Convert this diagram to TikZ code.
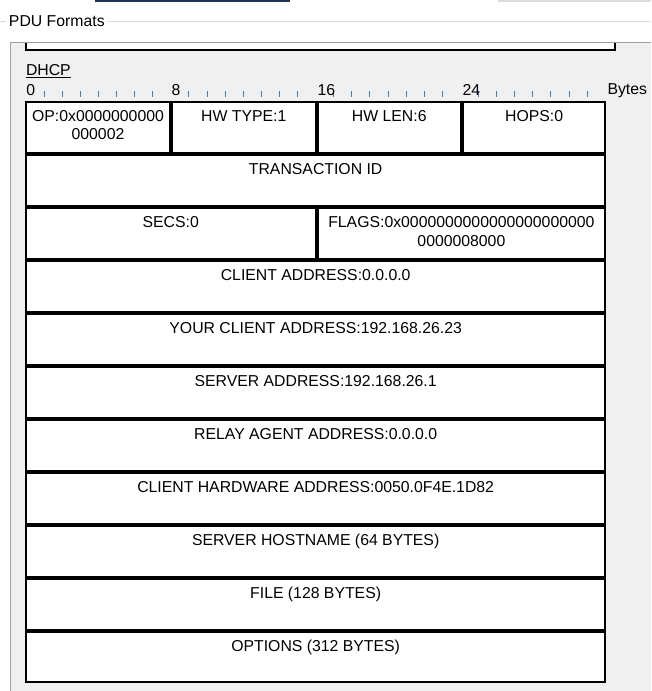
\documentclass[tikz,border=0pt]{standalone}
\usepackage{fontspec}
\setmainfont{Liberation Sans}
\definecolor{panelgray}{HTML}{F0F0F0}
\definecolor{panelborder}{HTML}{A0A0A0}
\definecolor{groupline}{HTML}{DCDCDC}
\definecolor{tabnavy}{HTML}{1B3358}
\definecolor{tickblue}{HTML}{3A7BD5}
\begin{document}
\begin{tikzpicture}[x=1pt,y=-1pt,
  every node/.style={font=\fontsize{15.8}{18.3}\selectfont, inner sep=0pt, outer sep=0pt},
  cellbox/.style={draw=black, line width=2pt, fill=white, rectangle, anchor=north west},
  celltext/.style={anchor=base, align=center, text=black},
  rulertick/.style={draw=tickblue, line width=1pt},
  rulerlabel/.style={anchor=base west, text=black}]
\useasboundingbox (0,0) rectangle (651,691);
\clip (0,0) rectangle (651,691);
\fill[white] (0,0) rectangle (651,691);
% window chrome
\fill[tabnavy] (95,0) rectangle (290,2);
\fill[groupline] (498,0) rectangle (651,1.5);
\node[anchor=base west] (title) at (9,26.5) {PDU Formats};
\draw[groupline, line width=1pt] (0,21.7) -- (6,21.7);
\draw[groupline, line width=1pt] (107,21.7) -- (651,21.7);
% panel
\fill[panelgray] (10.5,42.5) rectangle (652,692);
\draw[panelborder, line width=1pt] (10.5,692) -- (10.5,42.5) -- (652,42.5);
% previous PDU (cut off)
\fill[white] (26.3,43) rectangle (615,50);
\draw[black, line width=2pt] (26.3,43) -- (26.3,50) -- (615,50) -- (615,43);
% header
\node[anchor=base west] (dhcp) at (26,75.7) {DHCP};
\draw[black, line width=1pt] ([yshift=-2pt]dhcp.base west) -- ([yshift=-2pt]dhcp.base east);
% ruler
\foreach \k in {1,...,31}{
  \pgfmathtruncatemacro\m{mod(\k,8)}
  \ifnum\m=0\relax\else
    \draw[rulertick] ({26+18.1*\k},91) -- ({26+18.1*\k},97);
  \fi
}
\node[rulerlabel] (r0) at (26.5,95) {0};
\node[rulerlabel] (r8) at (171.5,95) {8};
\node[rulerlabel] (r16) at (317.5,95) {16};
\node[rulerlabel] (r24) at (462.5,95) {24};
\node[rulerlabel] (bytes) at (607.5,94.5) {Bytes};
% row 1
\node[cellbox, minimum width=144pt, minimum height=51.3pt] (op) at (26,102) {};
\node[cellbox, minimum width=143.5pt, minimum height=51.3pt] (hwtype) at (172,102) {};
\node[cellbox, minimum width=143.5pt, minimum height=51.3pt] (hwlen) at (317.5,102) {};
\node[cellbox, minimum width=142.3pt, minimum height=51.3pt] (hops) at (463,102) {};
\node[celltext] (optext) at (98,139.8) {OP:0x0000000000\\000002};
\node[celltext] (hwtypetext) at (243.75,121.5) {HW TYPE:1};
\node[celltext] (hwlentext) at (389.25,121.5) {HW LEN:6};
\node[celltext] (hopstext) at (534.15,121.5) {HOPS:0};
% row 2
\node[cellbox, minimum width=579.3pt, minimum height=51pt] (xid) at (26,155.3) {};
\node[celltext] (xidtext) at (315.65,174.8) {TRANSACTION ID};
% row 3
\node[cellbox, minimum width=289.5pt, minimum height=51pt] (secs) at (26,208.3) {};
\node[cellbox, minimum width=287.8pt, minimum height=51pt] (flags) at (317.5,208.3) {};
\node[celltext] (secstext) at (170.75,227.8) {SECS:0};
\node[celltext] (flagstext) at (461.4,246.1) {FLAGS:0x0000000000000000000000\\0000008000};
% rows 4-11
\node[cellbox, minimum width=579.3pt, minimum height=51pt] (ciaddr) at (26,261.3) {};
\node[celltext] (ciaddrtext) at (315.65,280.8) {CLIENT ADDRESS:0.0.0.0};
\node[cellbox, minimum width=579.3pt, minimum height=51pt] (yiaddr) at (26,314.3) {};
\node[celltext] (yiaddrtext) at (315.65,333.8) {YOUR CLIENT ADDRESS:192.168.26.23};
\node[cellbox, minimum width=579.3pt, minimum height=51pt] (siaddr) at (26,367.3) {};
\node[celltext] (siaddrtext) at (315.65,386.8) {SERVER ADDRESS:192.168.26.1};
\node[cellbox, minimum width=579.3pt, minimum height=51pt] (giaddr) at (26,420.3) {};
\node[celltext] (giaddrtext) at (315.65,439.8) {RELAY AGENT ADDRESS:0.0.0.0};
\node[cellbox, minimum width=579.3pt, minimum height=51pt] (chaddr) at (26,473.3) {};
\node[celltext] (chaddrtext) at (315.65,492.8) {CLIENT HARDWARE ADDRESS:0050.0F4E.1D82};
\node[cellbox, minimum width=579.3pt, minimum height=51pt] (sname) at (26,526.3) {};
\node[celltext] (snametext) at (315.65,545.8) {SERVER HOSTNAME (64 BYTES)};
\node[cellbox, minimum width=579.3pt, minimum height=51pt] (file) at (26,579.3) {};
\node[celltext] (filetext) at (315.65,598.8) {FILE (128 BYTES)};
\node[cellbox, minimum width=579.3pt, minimum height=49.7pt] (options) at (26,632.3) {};
\node[celltext] (optionstext) at (315.65,651.8) {OPTIONS (312 BYTES)};
\end{tikzpicture}
\end{document}
